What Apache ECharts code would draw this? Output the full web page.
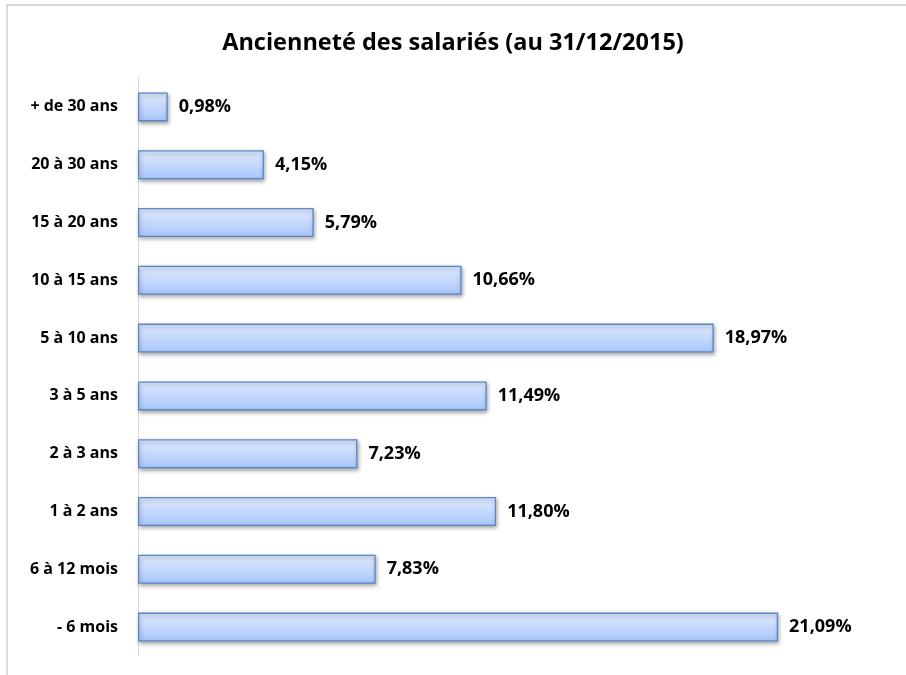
<!DOCTYPE html>
<html>
<head>
<meta charset="utf-8">
<script src="https://cdn.jsdelivr.net/npm/echarts@6/dist/echarts.min.js"></script>
<style>
  html, body { margin: 0; padding: 0; background: #fff; }
  #main { width: 906px; height: 675px; }
</style>
</head>
<body>
<div id="main"></div>
<script>
// données (de bas en haut sur l'axe)
const categories = ["- 6 mois", "6 à 12 mois", "1 à 2 ans", "2 à 3 ans", "3 à 5 ans",
  "5 à 10 ans", "10 à 15 ans", "15 à 20 ans", "20 à 30 ans", "+ de 30 ans"];
const values = [21.09, 7.83, 11.80, 7.23, 11.49, 18.97, 10.66, 5.79, 4.15, 0.98];

const myChart = echarts.init(document.getElementById("main"));
const font = "'Open Sans', sans-serif";

const options = {
  backgroundColor: "#fff",
  animation: false,
  title: {
    text: "Ancienneté des salariés (au 31/12/2015)",
    left: "center",
    top: 26,
    textStyle: { fontFamily: font, fontSize: 23.5, fontWeight: "bold", color: "#000" },
  },
  graphic: [
    {
      // cadre du graphique
      type: "rect",
      shape: { x: 7, y: 5, width: 1000, height: 800 },
      style: { fill: "none", stroke: "#d9d9d9", lineWidth: 2 },
      silent: true,
    },
  ],
  grid: { left: 138, top: 78, width: 667.7, height: 578 },
  xAxis: {
    type: "value",
    min: 0,
    max: 22,
    show: false,
  },
  yAxis: {
    type: "category",
    data: categories,
    axisLine: { show: true, lineStyle: { color: "#d9d9d9", width: 1 } },
    axisTick: { show: false },
    axisLabel: {
      margin: 20,
      fontFamily: font,
      fontSize: 16,
      fontWeight: "bold",
      color: "#000",
    },
  },
  series: [
    {
      type: "bar",
      data: values,
      barWidth: 29,
      itemStyle: {
        color: new echarts.graphic.LinearGradient(0, 0, 0, 1, [
          { offset: 0, color: "#e0eafe" },
          { offset: 1, color: "#a9c7fb" },
        ]),
        borderColor: "#5b87c8",
        borderWidth: 1.3,
        shadowColor: "rgba(0,0,0,0.35)",
        shadowBlur: 4,
        shadowOffsetX: 1,
        shadowOffsetY: 2,
      },
      label: {
        show: true,
        position: "right",
        distance: 11,
        fontFamily: font,
        fontSize: 18,
        fontWeight: "bold",
        color: "#000",
        formatter: function (p) {
          return p.value.toFixed(2).replace(".", ",") + "%";
        },
      },
    },
  ],
};
myChart.setOption(options);
</script>
</body>
</html>
